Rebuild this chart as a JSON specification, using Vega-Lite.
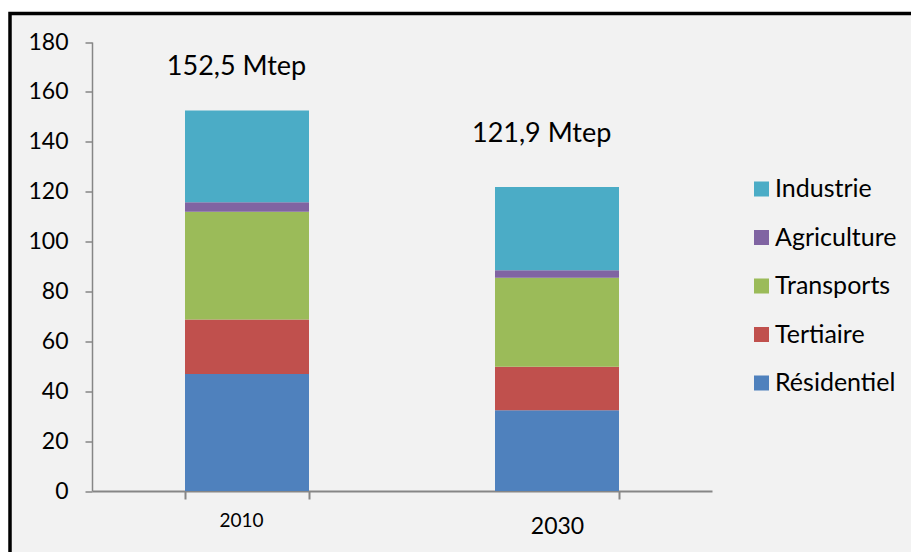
{
  "$schema": "https://vega.github.io/schema/vega-lite/v6.json",
  "autosize": {"type": "none"},
  "width": 901,
  "height": 538.5,
  "padding": {"left": 10, "top": 13.5, "right": 0, "bottom": 0},
  "background": "white",
  "view": {"fill": "#f2f2f2", "stroke": "black", "strokeWidth": 3.5, "strokeDash": [901, 1439.5, 538.5]},
  "config": {"font": "Lato"},
  "datasets": {
    "conso": [
      {"annee": "2010", "secteur": "Résidentiel", "rang": 1, "valeur": 46.9},
      {"annee": "2010", "secteur": "Tertiaire", "rang": 2, "valeur": 21.9},
      {"annee": "2010", "secteur": "Transports", "rang": 3, "valeur": 43.1},
      {"annee": "2010", "secteur": "Agriculture", "rang": 4, "valeur": 3.9},
      {"annee": "2010", "secteur": "Industrie", "rang": 5, "valeur": 36.7},
      {"annee": "2030", "secteur": "Résidentiel", "rang": 1, "valeur": 32.4},
      {"annee": "2030", "secteur": "Tertiaire", "rang": 2, "valeur": 17.4},
      {"annee": "2030", "secteur": "Transports", "rang": 3, "valeur": 35.7},
      {"annee": "2030", "secteur": "Agriculture", "rang": 4, "valeur": 3.0},
      {"annee": "2030", "secteur": "Industrie", "rang": 5, "valeur": 33.4}
    ],
    "totaux": [
      {"annee": "2010", "valeur": 152.5, "label": "152,5 Mtep"},
      {"annee": "2030", "valeur": 121.9, "label": "121,9 Mtep"}
    ]
  },
  "encoding": {
    "x": {
      "field": "annee", "type": "nominal",
      "scale": {"range": [82, 702], "paddingInner": 0.6, "paddingOuter": 0.3},
      "axis": {
        "title": null, "labelAngle": 0, "offset": -61,
        "domainColor": "#868686", "domainWidth": 2,
        "tickColor": "#868686", "tickWidth": 2, "tickSize": 8, "tickBand": "extent",
        "labelColor": "black",
        "labelFontSize": {"condition": {"test": "datum.value == '2010'", "value": 19}, "value": 23},
        "labelOffset": {"condition": {"test": "datum.value == '2010'", "value": -6}, "value": 0},
        "labelPadding": {"condition": {"test": "datum.value == '2010'", "value": 12}, "value": 16.5}
      }
    },
    "y": {
      "field": "valeur", "type": "quantitative",
      "scale": {"domain": [0, 180], "range": [477.5, 28.5], "nice": false},
      "axis": {
        "title": null, "offset": -82, "grid": false,
        "values": [0, 20, 40, 60, 80, 100, 120, 140, 160, 180],
        "domainColor": "#868686", "domainWidth": 1.5,
        "tickColor": "#868686", "tickWidth": 1.5, "tickSize": 7,
        "labelColor": "black", "labelFontSize": 23, "labelPadding": 17
      }
    }
  },
  "layer": [
    {
      "data": {"name": "conso"},
      "mark": {"type": "bar"},
      "encoding": {
        "color": {
          "field": "secteur", "type": "nominal",
          "scale": {
            "domain": ["Industrie", "Agriculture", "Transports", "Tertiaire", "Résidentiel"],
            "range": ["#4BACC6", "#8064A2", "#9BBB59", "#C0504D", "#4F81BD"]
          },
          "legend": {
            "title": null, "orient": "none", "legendX": 739, "legendY": 163,
            "padding": 0, "symbolType": "square", "symbolSize": 225, "symbolStrokeWidth": 0,
            "symbolOpacity": 1, "labelFontSize": 25, "labelColor": "black", "labelOffset": 1,
            "rowPadding": 22.5
          }
        },
        "order": {"field": "rang", "type": "quantitative"}
      }
    },
    {
      "data": {"name": "totaux"},
      "transform": [{"filter": "datum.annee == '2010'"}],
      "mark": {"type": "text", "fontSize": 27, "color": "black", "baseline": "middle", "dx": -10.5, "dy": -43.5},
      "encoding": {"text": {"field": "label"}}
    },
    {
      "data": {"name": "totaux"},
      "transform": [{"filter": "datum.annee == '2030'"}],
      "mark": {"type": "text", "fontSize": 27, "color": "black", "baseline": "middle", "dx": -15.3, "dy": -52.6},
      "encoding": {"text": {"field": "label"}}
    }
  ]
}
